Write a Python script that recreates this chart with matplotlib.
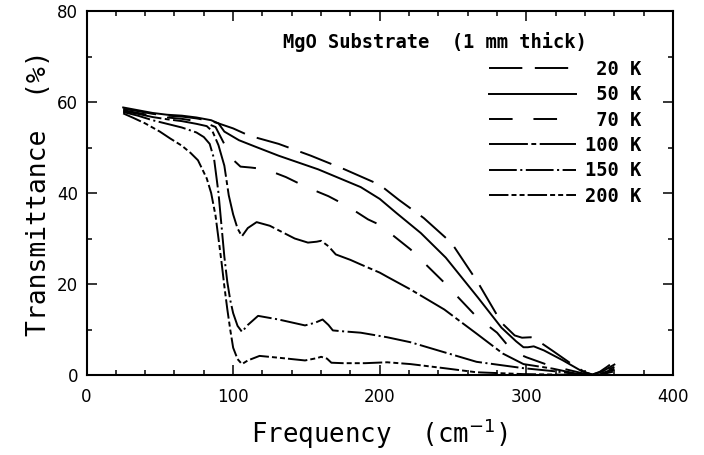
import matplotlib
matplotlib.use("Agg")
import matplotlib.pyplot as plt
from matplotlib.ticker import MultipleLocator

plt.rcParams['font.family'] = ['DejaVu Sans']
plt.rcParams['lines.scale_dashes'] = False

# ---- data ----
x_20 = [25, 35, 45, 55, 65, 75, 85, 90, 100, 111, 131, 153, 176, 200, 213, 230, 249, 267, 283,
        292, 297, 303, 308, 318, 330, 340, 345, 350, 355, 360]
y_20 = [58.5, 58.0, 57.4, 57.0, 56.8, 56.4, 55.8, 55.3, 54.2, 52.6, 50.8, 48.2, 45.2, 41.8, 38.5,
        34.5, 29.0, 20.3, 11.5, 8.7, 8.2, 8.3, 7.5, 5.3, 2.6, 0.6, 0.1, 0.7, 1.8, 3.0]

x_50 = [25, 35, 45, 55, 65, 75, 85, 90, 94, 104, 115, 131, 158, 187, 200, 211, 228, 245, 267,
        283, 293, 298, 301, 305, 312, 325, 338, 345, 352, 360]
y_50 = [58.8, 58.2, 57.6, 57.2, 57.0, 56.6, 56.0, 55.3, 53.5, 51.6, 50.2, 48.2, 45.2, 41.3, 38.7,
        35.7, 31.2, 25.8, 17.0, 10.4, 7.4, 6.1, 6.1, 6.3, 5.4, 3.2, 0.8, 0.1, 0.8, 2.3]

x_70 = [25, 35, 45, 55, 65, 75, 82, 88, 92, 96, 100, 105, 112, 120, 128, 136, 150, 165, 178, 192,
        200, 221, 244, 266, 280, 287, 295, 300, 313, 325, 338, 345, 352, 360]
y_70 = [58.2, 57.6, 57.0, 56.6, 56.3, 55.8, 55.3, 54.5, 52.0, 49.5, 47.3, 45.8, 45.6, 45.3, 44.5,
        43.5, 41.3, 39.3, 37.1, 34.2, 33.0, 27.6, 20.3, 12.8, 9.3, 6.6, 4.6, 3.9, 2.4, 1.4, 0.4,
        0.1, 0.6, 1.8]

x_100 = [25, 35, 45, 55, 65, 75, 82, 86, 90, 94, 97, 100, 103, 106, 110, 116, 125, 142, 151,
         157, 160, 165, 170, 180, 187, 200, 205, 221, 244, 266, 284, 298, 318, 334, 345, 352, 360]
y_100 = [58.0, 57.4, 56.7, 56.2, 55.8, 55.2, 54.7, 53.5, 50.5, 46.0, 39.5, 35.3, 32.2, 30.5, 32.3,
         33.6, 32.8, 30.0, 29.1, 29.3, 29.5, 28.3, 26.5, 25.3, 24.3, 22.5, 21.6, 18.8, 14.4, 9.1,
         4.7, 2.4, 1.4, 0.3, 0.0, 0.4, 1.4]

x_150 = [25, 35, 45, 55, 65, 75, 80, 84, 87, 89, 90, 92, 94, 96, 98, 100, 103, 106, 110, 117,
         131, 149, 156, 161, 165, 168, 175, 187, 205, 221, 244, 266, 298, 320, 334, 345, 352, 360]
y_150 = [57.8, 57.0, 56.0, 55.2, 54.4, 53.3, 52.3, 50.8, 47.5, 42.5, 40.0, 33.0, 26.0, 20.5, 16.5,
         13.6, 10.8, 9.5, 11.0, 13.0, 12.2, 10.9, 11.5, 12.2, 11.0, 9.8, 9.6, 9.3, 8.3, 7.2, 5.0,
         2.9, 1.5, 0.8, 0.2, 0.0, 0.4, 1.2]

x_200 = [25, 32, 40, 50, 57, 65, 71, 76, 82, 85, 88, 90, 92, 94, 96, 98, 100, 103, 106, 110, 118,
         131, 149, 157, 160, 164, 167, 175, 190, 205, 221, 244, 266, 298, 320, 334, 345, 352, 360]
y_200 = [57.5, 56.5, 55.3, 53.5, 52.0, 50.4, 48.8, 47.2, 43.2, 40.0, 35.0, 30.0, 25.0, 19.5, 14.5,
         10.0, 6.0, 3.5, 2.4, 3.2, 4.2, 3.8, 3.2, 3.7, 4.0, 3.6, 2.7, 2.6, 2.6, 2.8, 2.4, 1.5, 0.6,
         0.2, 0.1, 0.0, 0.0, 0.2, 0.8]

labels = [" 20 K", " 50 K", " 70 K", "100 K", "150 K", "200 K"]
title_text = "MgO Substrate  (1 mm thick)"
x_ticks = [0, 100, 200, 300, 400]
y_ticks = [0, 20, 40, 60, 80]

# ---- styles ----
dash_styles = [(0, (24, 9)), '-', (0, (17, 15)), (0, (28, 2.5, 3.5, 2.5)),
               (0, (20, 2.5, 1.5, 2.5)), (0, (14, 2.2, 3.6, 2.2, 3.6, 2.2))]

fig = plt.figure(figsize=(7.04, 4.55), dpi=100)
ax = fig.add_axes([0.1229, 0.1758, 0.8331, 0.8000])

series = [(x_20, y_20), (x_50, y_50), (x_70, y_70), (x_100, y_100), (x_150, y_150), (x_200, y_200)]
for (xs, ys), ls, lab in zip(series, dash_styles, labels):
    ax.plot(xs, ys, color='black', linestyle=ls, linewidth=1.4, label=lab)

ax.set_xlim(0, 400)
ax.set_ylim(0, 80)
ax.set_xticks(x_ticks)
ax.set_yticks(y_ticks)
ax.xaxis.set_minor_locator(MultipleLocator(20))
ax.yaxis.set_minor_locator(MultipleLocator(10))
ax.tick_params(which='both', direction='in', top=True, right=True, width=1.1, colors='black')
ax.tick_params(which='major', length=7)
ax.tick_params(which='minor', length=3.5)
ax.tick_params(axis='x', which='major', pad=9, labelsize=12)
ax.tick_params(axis='y', which='major', pad=6, labelsize=12)
for s in ax.spines.values():
    s.set_linewidth(1.5)

ax.set_xlabel("Frequency  (cm$^{-1}$)", fontfamily='DejaVu Sans Mono', fontsize=18.5, labelpad=8)
ax.set_ylabel("Transmittance  (%)", fontfamily='DejaVu Sans Mono', fontsize=19, labelpad=4)

ax.text(0.335, 0.916, title_text, transform=ax.transAxes, ha='left', va='center',
        fontfamily='DejaVu Sans Mono', fontweight='bold', fontsize=13.5)

leg = ax.legend(loc='upper right', bbox_to_anchor=(0.9466, 0.866), frameon=False,
                prop={'family': 'DejaVu Sans Mono', 'weight': 'bold', 'size': 13.5},
                handlelength=4.64, handletextpad=0.48, labelspacing=0.34, borderpad=0,
                borderaxespad=0)

fig.savefig("out.png", dpi=100)
